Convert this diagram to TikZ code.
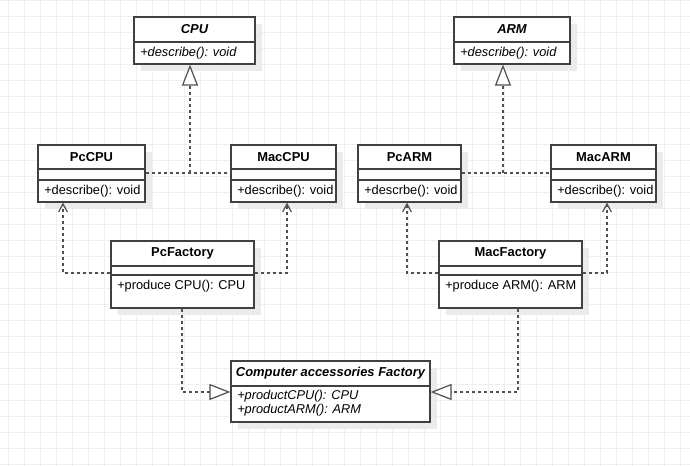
\documentclass[tikz,border=0pt]{standalone}
\usepackage{fontspec}
\setmainfont{Liberation Sans}
\usetikzlibrary{arrows.meta,fit}
\definecolor{gridc}{HTML}{EFEFEF}
\definecolor{shadc}{HTML}{EBEBEB}
\definecolor{linec}{HTML}{404040}
\definecolor{dashc}{HTML}{505050}
\tikzset{
 box/.style={draw=linec, fill=white, line width=0.9pt, inner sep=0pt},
 divline/.style={draw=linec, line width=0.9pt},
 cname/.style={font=\fontsize{9.7}{11}\selectfont\bfseries, inner sep=0pt},
 aname/.style={font=\fontsize{9.7}{11}\selectfont\bfseries\itshape, inner sep=0pt},
 meth/.style={font=\fontsize{9.6}{11}\selectfont, inner sep=0pt, anchor=west},
 ameth/.style={font=\fontsize{9.6}{11}\selectfont\itshape, inner sep=0pt, anchor=west},
 dline/.style={draw=dashc, line width=1.35pt, dash pattern=on 2.25pt off 2.25pt},
 dep/.style={dline, -{Straight Barb[length=6pt,width=6.5pt,line width=0.9pt]}},
 real/.style={dline, -{Triangle[fill=white,length=15.75pt,width=12pt,line width=0.9pt]}},
}
\newcommand\umlcls[5]{%
  \fill[shadc] (#2+7,#3+7) rectangle (#4+7,#5+7);
  \node[box, fit={(#2,#3) (#4,#5)}] (#1) {};
}
\newcommand\umldiv[2]{%
  \draw[divline] (#1.west |- 0,#2) -- (#1.east |- 0,#2);
}
\begin{document}
\begin{tikzpicture}[x=0.75pt,y=-0.75pt]
\useasboundingbox (0,0) rectangle (690,466);
\fill[white] (0,0) rectangle (690,466);
\foreach \gx in {8.5,24.5,...,690} \draw[gridc, line width=0.6pt] (\gx,0) -- (\gx,466);
\foreach \gy in {0.7,16.7,...,466} \draw[gridc, line width=0.6pt] (0,\gy) -- (690,\gy);

% abstract classes
\umlcls{cpu}{134}{17}{255}{64}
\umldiv{cpu}{42}
\node[aname] (cpuN) at (194.5,29.5) {CPU};
\node[ameth] (cpuM) at (140,53) {+describe(): void};

\umlcls{arm}{454}{17}{570}{64}
\umldiv{arm}{42}
\node[aname] (armN) at (512,29.5) {ARM};
\node[ameth] (armM) at (460,53) {+describe(): void};

% concrete products
\umlcls{pccpu}{38}{145}{145}{202}
\umldiv{pccpu}{169}\umldiv{pccpu}{180}
\node[cname] (pccpuN) at (91.5,157) {PcCPU};
\node[meth] (pccpuM) at (44,191) {+describe(): void};

\umlcls{maccpu}{231}{145}{336}{202}
\umldiv{maccpu}{169}\umldiv{maccpu}{180}
\node[cname] (maccpuN) at (283.5,157) {MacCPU};
\node[meth] (maccpuM) at (237,191) {+describe(): void};

\umlcls{pcarm}{358}{145}{461}{202}
\umldiv{pcarm}{169}\umldiv{pcarm}{180}
\node[cname] (pcarmN) at (409.5,157) {PcARM};
\node[meth] (pcarmM) at (364,191) {+descrbe(): void};

\umlcls{macarm}{551}{145}{656}{202}
\umldiv{macarm}{169}\umldiv{macarm}{180}
\node[cname] (macarmN) at (603.5,157) {MacARM};
\node[meth] (macarmM) at (557,191) {+describe(): void};

% factories
\umlcls{pcf}{111}{241}{254}{308}
\umldiv{pcf}{266}\umldiv{pcf}{275}
\node[cname] (pcfN) at (182.5,253.5) {PcFactory};
\node[meth] (pcfM) at (117,286) {+produce CPU(): CPU};

\umlcls{macf}{439}{241}{582}{308}
\umldiv{macf}{266}\umldiv{macf}{275}
\node[cname] (macfN) at (510.5,253.5) {MacFactory};
\node[meth] (macfM) at (445,286) {+produce ARM(): ARM};

\umlcls{caf}{231}{361}{430}{422}
\umldiv{caf}{386}
\node[aname] (cafN) at (330.5,373.5) {Computer accessories Factory};
\node[ameth] (cafM1) at (237,396) {+productCPU(): CPU};
\node[ameth] (cafM2) at (237,410) {+productARM(): ARM};

% connectors
\coordinate (jc1) at (190,173);
\coordinate (jc2) at (503,173);
\draw[dline] (pccpu.east |- jc1) -- (maccpu.west |- jc1);
\draw[real] (jc1) -- (cpu.south -| jc1);
\draw[dline] (pcarm.east |- jc2) -- (macarm.west |- jc2);
\draw[real] (jc2) -- (arm.south -| jc2);

\coordinate (pl) at (63,273);
\coordinate (pr) at (287,273);
\coordinate (ml) at (407,273);
\coordinate (mr) at (607,273);
\draw[dep] (pcf.west |- pl) -| (pccpu.south -| pl);
\draw[dep] (pcf.east |- pr) -| (maccpu.south -| pr);
\draw[dep] (macf.west |- ml) -| (pcarm.south -| ml);
\draw[dep] (macf.east |- mr) -| (macarm.south -| mr);

\coordinate (cx) at (182,392);
\coordinate (mx) at (518,392);
\draw[real] (pcf.south -| cx) |- (caf.west |- cx);
\draw[real] (macf.south -| mx) |- (caf.east |- mx);
\end{tikzpicture}
\end{document}
